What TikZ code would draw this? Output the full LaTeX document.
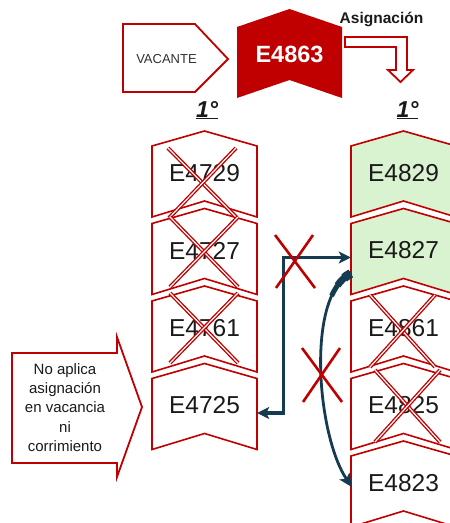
\documentclass[tikz,border=0pt]{standalone}
\usepackage{fontspec}
\setmainfont{Liberation Sans}
\usetikzlibrary{arrows.meta,calc}
\definecolor{cred}{HTML}{C00000}
\definecolor{cgreen}{HTML}{D9F2D0}
\definecolor{cnavy}{HTML}{163B50}
\definecolor{ctext}{HTML}{1A1A1A}
\newcommand{\chevbox}[5]{%
  \filldraw[chevline, fill=#5] ({#2-52.5},{#3}) -- ({#2},{#3-15}) -- ({#2+52.5},{#3}) -- ({#2+52.5},{#3+71}) -- ({#2},{#3+55}) -- ({#2-52.5},{#3+71}) -- cycle;
  \node[chevtext] (#1) at ({#2},{#3+27}) {#4};
}
\begin{document}
\begin{tikzpicture}[x=1pt,y=-1pt,
  chevline/.style={draw=cred, line width=1.6pt, line join=miter},
  chevtext/.style={inner sep=0pt, minimum width=105pt, minimum height=30pt, font=\fontsize{24.5}{28}\selectfont, text=ctext},
  xmark/.style={draw=cred, line width=1.35pt, double=white, double distance=1.2pt},
  thinx/.style={draw=cred, line width=2.6pt},
  navy/.style={draw=cnavy, line width=3.2pt, line join=miter},
  redshape/.style={draw=cred, line width=1.8pt, fill=white, line join=miter},
  ord/.style={font=\fontsize{23}{25}\selectfont\bfseries\itshape, text=ctext}]
\useasboundingbox (0,0) rectangle (450,523);
\clip (0,0) rectangle (450,523);

% top row
\draw[redshape] (123,24) -- (195,24) -- (228,59) -- (195,92) -- (123,92) -- cycle;
\node[font=\fontsize{13}{15}\selectfont, text=ctext!90] (vac) at (166.5,59) {VACANTE};
\fill[cred] (237,27) -- (289.5,9) -- (342,27) -- (342,98) -- (289.5,80) -- (237,98) -- cycle;
\node[font=\fontsize{23.5}{26}\selectfont\bfseries, text=white] (top) at (289.5,54) {E4863};
\node[font=\fontsize{15.5}{18}\selectfont\bfseries, text=ctext] (asig) at (381.5,19.5) {Asignación};
\draw[redshape] (345,37) -- (407,37) -- (407,70) -- (413,70) -- (400.5,82) -- (388,70) -- (396,70) -- (396,47) -- (345,47) -- cycle;

\node[ord] (o1) at (207,110) {\underline{1°}};
\node[ord] (o2) at (407.5,110) {\underline{1°}};

% left column
\chevbox{l1}{204.5}{146}{E4729}{white}
\chevbox{l2}{204.5}{223.5}{E4727}{white}
\chevbox{l3}{204.5}{301}{E4761}{white}
\chevbox{l4}{204.5}{378.5}{E4725}{white}
% right column
\chevbox{r1}{403.5}{146}{E4829}{cgreen}
\chevbox{r2}{403.5}{223.5}{E4827}{cgreen}
\chevbox{r3}{403.5}{301}{E4861}{white}
\chevbox{r4}{403.5}{378.5}{E4825}{white}
\chevbox{r5}{403.5}{456}{E4823}{white}

% crosses on chevrons
\draw[xmark] ([shift={(-36.5,-25)}]l1.center) -- ([shift={(32.5,45)}]l1.center);
\draw[xmark] ([shift={(31.5,-25)}]l1.center) -- ([shift={(-35.5,45)}]l1.center);
\draw[xmark] ([shift={(-34.5,-33.5)}]l2.center) -- ([shift={(33.5,36.5)}]l2.center);
\draw[xmark] ([shift={(33.5,-33.5)}]l2.center) -- ([shift={(-34.5,36.5)}]l2.center);
\draw[xmark] ([shift={(-34.5,-35)}]l3.center) -- ([shift={(33.5,35)}]l3.center);
\draw[xmark] ([shift={(33.5,-35)}]l3.center) -- ([shift={(-34.5,35)}]l3.center);
\draw[xmark] ([shift={(-33.5,-33)}]r3.center) -- ([shift={(31.5,39)}]r3.center);
\draw[xmark] ([shift={(31.5,-33)}]r3.center) -- ([shift={(-33.5,39)}]r3.center);
\draw[xmark] ([shift={(-28.5,-35.5)}]r4.center) -- ([shift={(36.5,36.5)}]r4.center);
\draw[xmark] ([shift={(36.5,-35.5)}]r4.center) -- ([shift={(-28.5,36.5)}]r4.center);

% callout
\draw[redshape] (12,353) -- (117,353) -- (117,337) -- (142,407) -- (117,477) -- (117,463) -- (12,463) -- cycle;
\node[font=\fontsize{15}{19.2}\selectfont, text=ctext, align=center] (note) at (65,407.5) {No aplica\\asignación\\en vacancia\\ni\\corrimiento};

% elbow connector
\draw[navy, {Stealth[length=12pt,width=12pt,inset=3pt]}-{Stealth[length=12pt,width=12pt,inset=3pt]}]
  ([shift={(0,7.5)}]l4.east) -- ++(26.5,0) |- ([shift={(0,7)}]r2.west);

% curved connector
\coordinate (cs) at ([shift={(0,23)}]r2.west);
\coordinate (ce) at ([shift={(1,4)}]r5.west);
\draw[navy, line width=2.8pt, -{Stealth[length=13pt,width=12pt,inset=3pt]}]
  (cs) .. controls +(-45,22) and +(-35,-52) .. (ce);
\draw[navy, line width=5pt, dash pattern=on 30pt off 3000pt]
  (cs) .. controls +(-45,22) and +(-35,-52) .. (ce);
\draw[navy, line width=7pt, dash pattern=on 18pt off 3000pt]
  (cs) .. controls +(-45,22) and +(-35,-52) .. (ce);
\draw[navy, line width=9pt, dash pattern=on 8pt off 3000pt]
  (cs) .. controls +(-45,22) and +(-35,-52) .. (ce);

% crosses on connectors
\coordinate (xa) at (295,261.5);
\coordinate (xb) at (322,375);
\draw[thinx] ([shift={(-20,-26.5)}]xa) -- ([shift={(20,26.5)}]xa);
\draw[thinx] ([shift={(18,-26.5)}]xa) -- ([shift={(-19,26.5)}]xa);
\draw[thinx] ([shift={(-20,-27)}]xb) -- ([shift={(20,27)}]xb);
\draw[thinx] ([shift={(18,-27)}]xb) -- ([shift={(-19,27)}]xb);
\end{tikzpicture}
\end{document}
